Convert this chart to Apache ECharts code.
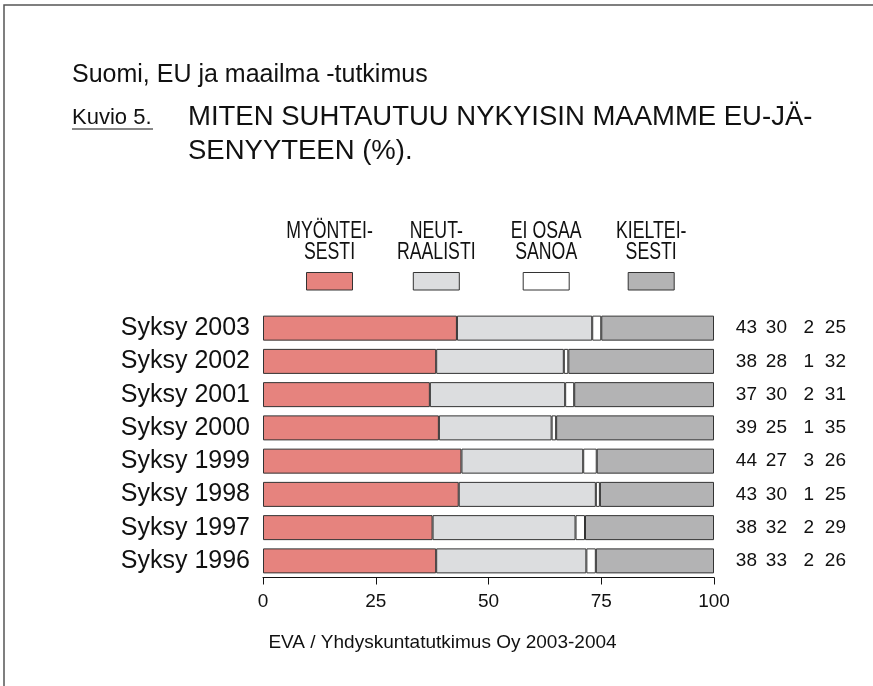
<!DOCTYPE html>
<html lang="fi">
<head>
    <meta charset="UTF-8">
    <title>Kuvio 5</title>
    <style>
        html, body {
            margin: 0;
            padding: 0;
            background: #fff;
        }

        #main {
            width: 873px;
            height: 686px;
        }
    </style>
</head>
<body>
<div id="main"></div>
<script src="https://cdn.jsdelivr.net/npm/echarts@6/dist/echarts.min.js"></script>
<script>
    // vuodet ylhäältä alas
    const vuodet = ['Syksy 2003', 'Syksy 2002', 'Syksy 2001', 'Syksy 2000', 'Syksy 1999', 'Syksy 1998', 'Syksy 1997', 'Syksy 1996']
    const myonteisesti = [43, 38.4, 37, 39, 44, 43.4, 37.6, 38.4]
    const neutraalisti = [30, 28.3, 30, 25, 27, 30.4, 31.7, 33.3]
    const eiOsaa = [2, 1, 2, 1, 3, 0.9, 2.1, 2.1]
    const kielteisesti = [25, 32.3, 31, 35, 26, 25.3, 28.6, 26.2]
    const selitteet = ['MYÖNTEI-\nSESTI', 'NEUT-\nRAALISTI', 'EI OSAA\nSANOA', 'KIELTEI-\nSESTI']
    const varit = ['#e6837e', '#dcdddf', '#ffffff', '#b3b3b4']

    const fontti = '"Liberation Sans", Arial, sans-serif'
    const teksti = '#111'

    let myChart = echarts.init(document.querySelector('#main'))

    let sarjat = [myonteisesti, neutraalisti, eiOsaa, kielteisesti].map((arvot, i) => ({
        name: selitteet[i],
        type: 'bar',
        stack: 'kaikki',
        barWidth: 25,
        data: arvot,
        itemStyle: {
            color: varit[i],
            borderColor: '#333',
            borderWidth: 1
        },
        silent: true
    }))

    // selitteet: kapea teksti laatikon yläpuolella
    let selitePaikat = [329.5, 436.3, 546.2, 651.2]
    let seliteGrafiikka = []
    selitteet.forEach((nimi, i) => {
        seliteGrafiikka.push({
            type: 'text',
            x: selitePaikat[i],
            y: 242,
            scaleX: 0.77,
            style: {
                text: nimi,
                font: '23px ' + fontti,
                fill: teksti,
                align: 'center',
                verticalAlign: 'middle',
                lineHeight: 21
            }
        })
        seliteGrafiikka.push({
            type: 'rect',
            shape: {x: selitePaikat[i] - 23, y: 272.5, width: 46, height: 17.5},
            style: {fill: varit[i], stroke: '#333', lineWidth: 1}
        })
    })

    let numeroTyyli = {align: 'right', fontSize: 19, color: teksti, fontFamily: fontti}

    let option = {
        animation: false,
        textStyle: {fontFamily: fontti},
        grid: {
            left: 263,
            right: 159,
            top: 311.5,
            height: 266
        },
        xAxis: {
            type: 'value',
            min: 0,
            max: 100,
            interval: 25,
            axisLine: {show: true, lineStyle: {color: '#111', width: 1}},
            axisTick: {show: true, length: 7, lineStyle: {color: '#111'}},
            splitLine: {show: false},
            axisLabel: {color: teksti, fontSize: 19, margin: 15, fontFamily: fontti}
        },
        yAxis: [
            {
                type: 'category',
                data: vuodet,
                inverse: true,
                axisLine: {show: false},
                axisTick: {show: false},
                axisLabel: {color: teksti, fontSize: 25, margin: 13, fontFamily: fontti}
            },
            {
                type: 'category',
                data: vuodet,
                inverse: true,
                position: 'right',
                axisLine: {show: false},
                axisTick: {show: false},
                axisLabel: {
                    margin: 21,
                    align: 'left',
                    formatter: (v, i) => '{a|' + Math.round(myonteisesti[i]) + '}{b|' + Math.round(neutraalisti[i]) +
                        '}{c|' + Math.round(eiOsaa[i]) + '}{d|' + Math.round(kielteisesti[i]) + '}',
                    rich: {
                        a: Object.assign({width: 22}, numeroTyyli),
                        b: Object.assign({width: 30}, numeroTyyli),
                        c: Object.assign({width: 27}, numeroTyyli),
                        d: Object.assign({width: 32}, numeroTyyli)
                    }
                }
            }
        ],
        series: sarjat,
        graphic: [
            {
                type: 'rect',
                shape: {x: 4, y: 5, width: 900, height: 700},
                style: {fill: null, stroke: '#555', lineWidth: 1.5},
                silent: true
            },
            {
                type: 'text', x: 72, y: 75,
                style: {text: 'Suomi, EU ja maailma -tutkimus', font: '25px ' + fontti, fill: teksti, verticalAlign: 'middle'}
            },
            {
                type: 'text', x: 72, y: 118,
                style: {text: 'Kuvio 5.', font: '22px ' + fontti, fill: teksti, verticalAlign: 'middle'}
            },
            {
                type: 'line',
                shape: {x1: 72, y1: 129, x2: 153, y2: 129},
                style: {stroke: teksti, lineWidth: 1}
            },
            {
                type: 'text', x: 188, y: 117,
                style: {text: 'MITEN SUHTAUTUU NYKYISIN MAAMME EU-JÄ-', font: '27.5px ' + fontti, fill: teksti, verticalAlign: 'middle'}
            },
            {
                type: 'text', x: 188, y: 151,
                style: {text: 'SENYYTEEN (%).', font: '27.5px ' + fontti, fill: teksti, verticalAlign: 'middle'}
            },
            {
                type: 'text', x: 442.5, y: 643,
                style: {text: 'EVA / Yhdyskuntatutkimus Oy 2003-2004', font: '19px ' + fontti, fill: teksti, align: 'center', verticalAlign: 'middle'}
            }
        ].concat(seliteGrafiikka)
    }
    myChart.setOption(option)
</script>
</body>
</html>
